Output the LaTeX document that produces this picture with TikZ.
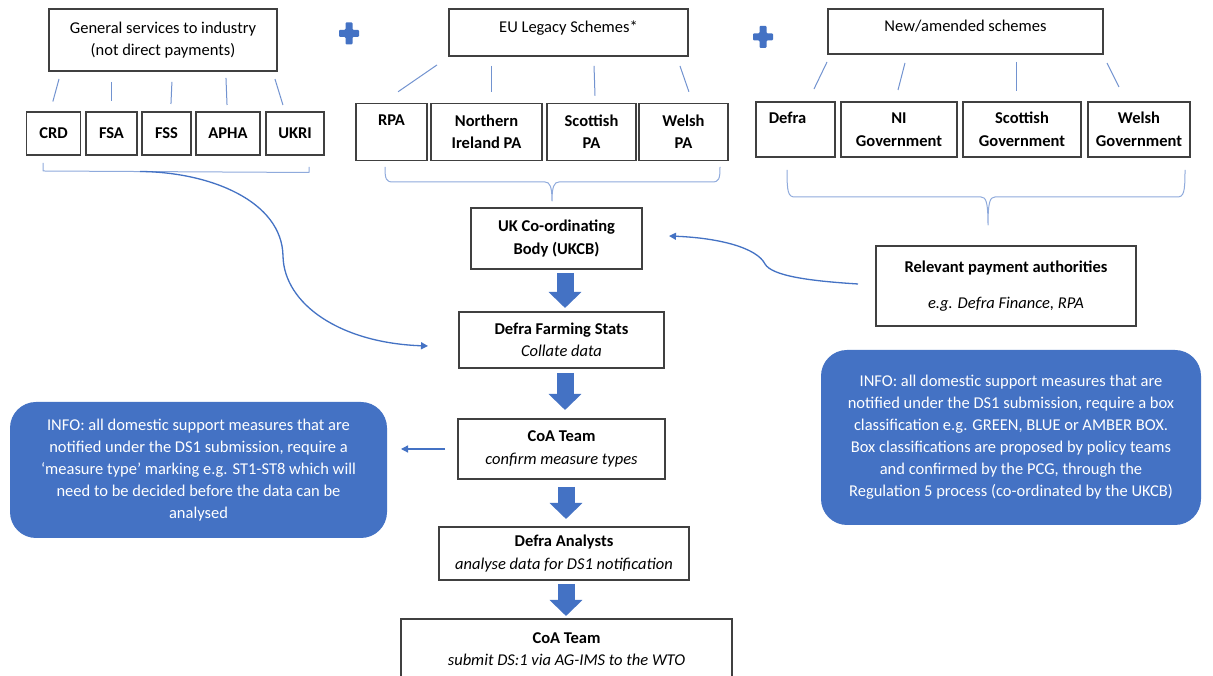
\documentclass[tikz,border=0pt]{standalone}
\usepackage{fontspec}
\setmainfont{Carlito}
\usetikzlibrary{arrows.meta}

\begin{document}
\begin{tikzpicture}[x=1pt,y=1pt,
  box/.style={draw=boxColor,line width=1.3pt,fill=white,inner sep=0pt,outer sep=0pt,align=center,text=black,font=\fontsize{16.5}{22.5}\selectfont},
  unit/.style={box,font=\fontsize{16.5}{22.5}\selectfont\bfseries},
  info/.style={fill=blueColor,rounded corners=26pt,inner sep=0pt,outer sep=0pt,align=center,text=white,font=\fontsize{16.5}{22}\selectfont},
  link/.style={draw=linkColor,line width=1pt},
  brace/.style={draw=braceColor,line width=1pt,line join=round},
  flow/.style={draw=blueColor,line width=1.3pt,-{Triangle[width=7pt,length=7pt]}},
  fat/.style={draw=blueColor,line width=17pt,-{Triangle[width=32pt,length=16pt]}}]
\definecolor{boxColor}{RGB}{64,64,64}
\definecolor{blueColor}{RGB}{68,114,196}
\definecolor{linkColor}{RGB}{114,147,208}
\definecolor{braceColor}{RGB}{143,170,220}

\path[use as bounding box,fill=white] (0,0) rectangle (1213,676);

\node[box,minimum width=228pt,minimum height=62pt] (gen) at (163,636) {General services to industry\\(not direct payments)};

\node[box,minimum width=239pt,minimum height=47pt,text height=11pt,text depth=11pt] (eu) at (568.5,643.5) {EU Legacy Schemes*};

\node[box,minimum width=275pt,minimum height=45pt,text height=11pt,text depth=11pt] (new) at (965.5,644.5) {New/amended schemes};

\foreach \cx/\cy in {349/642.5,763/639}
  \path[fill=blueColor,rounded corners=1pt] (\cx-3.5,\cy+11) -- (\cx+3.5,\cy+11) -- (\cx+3.5,\cy+3.5) -- (\cx+10,\cy+3.5) -- (\cx+10,\cy-3.5) -- (\cx+3.5,\cy-3.5) -- (\cx+3.5,\cy-11) -- (\cx-3.5,\cy-11) -- (\cx-3.5,\cy-3.5) -- (\cx-10,\cy-3.5) -- (\cx-10,\cy+3.5) -- (\cx-3.5,\cy+3.5) -- cycle;

\node[unit,minimum width=54pt,minimum height=43pt] (crd) at (53.5,542.5) {CRD};

\node[unit,minimum width=51pt,minimum height=43pt] (fsa) at (111.5,542.5) {FSA};

\node[unit,minimum width=49pt,minimum height=43pt] (fss) at (166.5,542.5) {FSS};

\node[unit,minimum width=64pt,minimum height=43pt] (apha) at (228,542.5) {APHA};

\node[unit,minimum width=58pt,minimum height=43pt] (ukri) at (295,542.5) {UKRI};

\node[unit,minimum width=71pt,minimum height=57pt] (rpa) at (391.5,544.25) {RPA\\\phantom{P}};

\node[unit,minimum width=111pt,minimum height=57pt] (nipa) at (486.5,544.25) {Northern\\Ireland PA};

\node[unit,minimum width=89pt,minimum height=57pt] (scpa) at (591.5,544.25) {Scottish\\PA};

\node[unit,minimum width=89pt,minimum height=57pt] (wapa) at (683.5,544.25) {Welsh\\PA};

\node[unit,minimum width=79pt,minimum height=55pt] (defra) at (795.5,546.5) {Defra\hspace*{16pt}\\\phantom{D}};

\node[unit,minimum width=116pt,minimum height=55pt] (nigov) at (899,546.5) {NI\\Government};

\node[unit,minimum width=118pt,minimum height=55pt] (scgov) at (1022,546.5) {Scottish\\Government};

\node[unit,minimum width=102pt,minimum height=55pt] (wagov) at (1139,546.5) {Welsh\\Government};

\path[link,shorten <=8.3pt,shorten >=10.9pt] ([xshift=-101.8pt]gen.south) -- ([xshift=-3.5pt]crd.north);

\path[link,shorten <=11pt,shorten >=11pt] ([xshift=-51.5pt]gen.south) -- (fsa.north);

\path[link,shorten <=11pt,shorten >=8pt] ([xshift=9.4pt]gen.south) -- ([xshift=4.1pt]fss.north);

\path[link,shorten <=7pt,shorten >=7pt] ([xshift=62.7pt]gen.south) -- ([xshift=-0.7pt]apha.north);

\path[link,shorten <=8.4pt,shorten >=7.3pt] ([xshift=109.5pt]gen.south) -- ([xshift=-9.9pt]ukri.north);

\path[link,shorten <=15.8pt,shorten >=20.2pt] ([xshift=-118.5pt]eu.south) -- ([xshift=-10.1pt]rpa.north);

\path[link,shorten <=10pt,shorten >=11.5pt] ([xshift=-77.5pt]eu.south) -- ([xshift=4.5pt]nipa.north);

\path[link,shorten <=10pt,shorten >=7.5pt] ([xshift=25.2pt]eu.south) -- ([xshift=3.75pt]scpa.north);

\path[link,shorten <=10.6pt,shorten >=12.2pt] ([xshift=108pt]eu.south) -- ([xshift=9.4pt]wapa.north);

\path[link,shorten <=8.9pt,shorten >=14.4pt] ([xshift=-134.6pt]new.south) -- ([xshift=12.2pt]defra.north);

\path[link,shorten <=9.3pt,shorten >=12.4pt] ([xshift=-58.2pt]new.south) -- ([xshift=-4.1pt]nigov.north);

\path[link,shorten <=8pt,shorten >=11pt] ([xshift=50.5pt]new.south) -- ([xshift=-6pt]scgov.north);

\path[link,shorten <=10.1pt,shorten >=16.8pt] ([xshift=137pt]new.south) -- ([xshift=-12.5pt]wagov.north);

\path[brace] (43,513) -- (43,505) -- (309,503.5) -- (309,509);

\path[brace] (385,509) .. controls (385,497) and (386,494) .. (393,494) -- (545,494) .. controls (550,494) and (552,489) .. (552,475) .. controls (552,489) and (554,494) .. (559,494) -- (712,494) .. controls (719,494) and (720,497) .. (720,509);

\path[brace] (787,506) .. controls (787,484) and (788,479) .. (795,479) -- (981,479) .. controls (986,479) and (988,474) .. (988,451) .. controls (988,474) and (990,479) .. (995,479) -- (1177,479) .. controls (1184,479) and (1185,484) .. (1185,506);

\node[unit,minimum width=171pt,minimum height=61pt] (ukcb) at (556.5,437.5) {UK Co-ordinating\\Body (UKCB)};

\node[box,minimum width=205pt,minimum height=56pt] (stats) at (561.5,336) {\textbf{Defra Farming Stats}\\\textit{Collate data}};

\node[box,minimum width=207pt,minimum height=60pt] (coa1) at (561.5,227) {\textbf{CoA Team}\\\textit{confirm measure types}};

\node[box,minimum width=250pt,minimum height=53pt] (analysts) at (564,122.5) {\textbf{Defra Analysts}\\\textit{analyse data for DS1 notification}};

\node[box,minimum width=331pt,minimum height=60pt] (final) at (566.5,27) {\textbf{CoA Team}\\\textit{submit DS:1 via AG-IMS to the WTO}};

\node[box,minimum width=260pt,minimum height=80pt] (relevant) at (1006,390) {\textbf{Relevant payment authorities}\\[13.5pt]\textit{e.g. Defra Finance, RPA}};

\node[info,minimum width=380pt,minimum height=175pt] (infoR) at (1011,238.5) {INFO: all domestic support measures that are\\notified under the DS1 submission, require a box\\classification e.g. GREEN, BLUE or AMBER BOX.\\Box classifications are proposed by policy teams\\and confirmed by the PCG, through the\\Regulation 5 process (co-ordinated by the UKCB)};

\node[info,minimum width=377pt,minimum height=136pt] (infoL) at (198.5,206) {INFO: all domestic support measures that are\\notified under the DS1 submission, require a\\‘measure type’ marking e.g. ST1-ST8 which will\\need to be decided before the data can be\\analysed};

\path[fat,shorten <=4pt,shorten >=4pt] ([xshift=8.5pt]ukcb.south) -- ([xshift=3.5pt]stats.north);

\path[fat,shorten <=5pt,shorten >=9pt] ([xshift=3.5pt]stats.south) -- ([xshift=3.5pt]coa1.north);

\path[fat,shorten <=8pt,shorten >=8pt] ([xshift=4.5pt]coa1.south) -- ([xshift=2pt]analysts.north);

\path[fat,shorten <=4pt,shorten >=3pt] ([xshift=2pt]analysts.south) -- ([xshift=-0.5pt]final.north);

\coordinate (gentap) at (140,504.5);

\coordinate (statsin) at ([xshift=-31pt,yshift=-6pt]stats.west);

\path[flow] (gentap) .. controls (210,504) and (282,475) .. (283,420) .. controls (284,372) and (340,333) .. (statsin);

\coordinate (relout) at ([xshift=-18pt,yshift=2pt]relevant.west);

\coordinate (ukcbin) at ([xshift=27pt,yshift=2.5pt]ukcb.east);

\path[flow] (relout) .. controls (810,395) and (772,400) .. (765,412) .. controls (757,428) and (720,438) .. (ukcbin);

\path[flow,shorten <=13pt,shorten >=14pt] (coa1.west) -- (coa1.west -| infoL.east);
\end{tikzpicture}
\end{document}
